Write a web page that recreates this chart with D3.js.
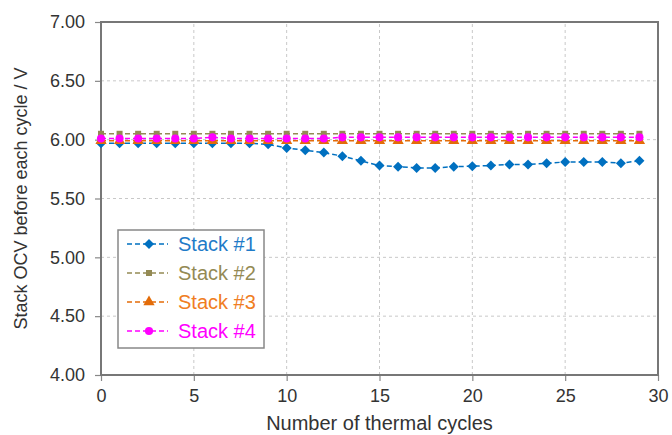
<!DOCTYPE html>
<html lang="en">
<head>
    <meta charset="UTF-8">
    <title>Stack OCV vs thermal cycles</title>
    <script src="https://cdn.jsdelivr.net/npm/d3@7"></script>
    <style>
        body { margin: 0; background: #fff; }
        svg { display: block; font-family: "Liberation Sans", Arial, sans-serif; }
    </style>
</head>
<body>
<div id="chart"></div>
<script>
    const cycles = d3.range(0, 30);
    const stack1 = [5.97, 5.97, 5.97, 5.97, 5.97, 5.97, 5.97, 5.97, 5.97, 5.96,
                    5.93, 5.91, 5.89, 5.86, 5.82, 5.78, 5.77, 5.76, 5.76, 5.77,
                    5.775, 5.78, 5.79, 5.79, 5.80, 5.81, 5.81, 5.81, 5.80, 5.82];
    const stack2 = [6.05, 6.05, 6.05, 6.05, 6.05, 6.05, 6.05, 6.05, 6.05, 6.05,
                    6.05, 6.05, 6.05, 6.05, 6.05, 6.05, 6.05, 6.05, 6.05, 6.05,
                    6.05, 6.05, 6.05, 6.05, 6.05, 6.05, 6.05, 6.05, 6.05, 6.05];
    const stack3 = [5.99, 5.99, 5.99, 5.99, 5.99, 5.99, 5.99, 5.99, 5.99, 5.99,
                    5.99, 5.99, 5.99, 5.99, 5.99, 5.99, 5.99, 5.99, 5.99, 5.99,
                    5.99, 5.99, 5.99, 5.99, 5.99, 5.99, 5.99, 5.99, 5.99, 5.99];
    const stack4 = [6.01, 6.01, 6.01, 6.01, 6.01, 6.01, 6.02, 6.01, 6.01, 6.01,
                    6.01, 6.01, 6.01, 6.02, 6.02, 6.02, 6.02, 6.02, 6.02, 6.02,
                    6.02, 6.02, 6.02, 6.02, 6.02, 6.02, 6.02, 6.02, 6.02, 6.02];
    const seriesNames = ["Stack #1", "Stack #2", "Stack #3", "Stack #4"];
    const xTicks = [0, 5, 10, 15, 20, 25, 30];
    const yTicks = [4.0, 4.5, 5.0, 5.5, 6.0, 6.5, 7.0];

    const series = [
        {name: seriesNames[0], values: stack1, color: "#0070C0", text: "#1F7BC8", symbol: d3.symbolSquare, size: 50, rot: 45},
        {name: seriesNames[1], values: stack2, color: "#948A54", text: "#948A54", symbol: d3.symbolSquare, size: 36, rot: 0},
        {name: seriesNames[2], values: stack3, color: "#E36C09", text: "#F07D22", symbol: d3.symbolTriangle, size: 55, rot: 0},
        {name: seriesNames[3], values: stack4, color: "#FF00FF", text: "#FF00FF", symbol: d3.symbolCircle, size: 52, rot: 0}
    ];

    const width = 672, height = 435;
    const margin = {left: 101, right: 14, top: 22, bottom: 60};

    const x = d3.scaleLinear().domain([0, 30]).range([margin.left, width - margin.right]);
    const y = d3.scaleLinear().domain([4, 7]).range([height - margin.bottom, margin.top]);

    const svg = d3.select("#chart").append("svg")
        .attr("width", width)
        .attr("height", height);

    // grid
    svg.append("g")
        .selectAll("line")
        .data(xTicks.slice(1, -1))
        .join("line")
        .attr("x1", d => x(d)).attr("x2", d => x(d))
        .attr("y1", y(4)).attr("y2", y(7))
        .attr("stroke", "#c8c8c8")
        .attr("stroke-dasharray", "3,3");
    svg.append("g")
        .selectAll("line")
        .data(yTicks.slice(1, -1))
        .join("line")
        .attr("x1", x(0)).attr("x2", x(30))
        .attr("y1", d => y(d)).attr("y2", d => y(d))
        .attr("stroke", "#c8c8c8")
        .attr("stroke-dasharray", "3,3");

    // axes
    const xAxis = svg.append("g")
        .attr("transform", `translate(0,${y(4)})`)
        .call(d3.axisBottom(x).tickValues(xTicks).tickSize(6).tickPadding(8).tickFormat(d3.format("d")));
    const yAxis = svg.append("g")
        .attr("transform", `translate(${x(0)},0)`)
        .call(d3.axisLeft(y).tickValues(yTicks).tickSize(6).tickPadding(10).tickFormat(d3.format(".2f")));
    [xAxis, yAxis].forEach(a => {
        a.select(".domain").remove();
        a.selectAll("line").attr("stroke", "#888").attr("stroke-width", 1.2);
        a.selectAll("text").attr("fill", "#333").style("font-size", "18px");
    });

    // plot frame
    svg.append("rect")
        .attr("x", x(0)).attr("y", y(7))
        .attr("width", x(30) - x(0)).attr("height", y(4) - y(7))
        .attr("fill", "none")
        .attr("stroke", "#777")
        .attr("stroke-width", 2);

    // series
    const line = d3.line().x((d, i) => x(cycles[i])).y(d => y(d));
    series.forEach(s => {
        const g = svg.append("g");
        g.append("path")
            .datum(s.values)
            .attr("d", line)
            .attr("fill", "none")
            .attr("stroke", s.color)
            .attr("stroke-width", 1.5)
            .attr("stroke-dasharray", "5,3");
        g.selectAll("path.pt")
            .data(s.values)
            .join("path")
            .attr("class", "pt")
            .attr("transform", (d, i) => `translate(${x(cycles[i])},${y(d)}) rotate(${s.rot})`)
            .attr("d", d3.symbol(s.symbol, s.size))
            .attr("fill", s.color);
    });

    // legend
    const legend = svg.append("g").attr("transform", "translate(118,230)");
    legend.append("rect")
        .attr("width", 146).attr("height", 118)
        .attr("fill", "#fff")
        .attr("stroke", "#888")
        .attr("stroke-width", 1.5);
    series.forEach((s, i) => {
        const row = legend.append("g").attr("transform", `translate(0,${14 + i * 29})`);
        row.append("line")
            .attr("x1", 9).attr("x2", 50)
            .attr("stroke", s.color)
            .attr("stroke-width", 1.5)
            .attr("stroke-dasharray", "5,3");
        row.append("path")
            .attr("transform", `translate(31,0) rotate(${s.rot})`)
            .attr("d", d3.symbol(s.symbol, s.size))
            .attr("fill", s.color);
        row.append("text")
            .attr("x", 60).attr("dy", "0.35em")
            .attr("fill", s.text)
            .style("font-size", "20px")
            .text(s.name);
    });

    // axis titles
    svg.append("text")
        .attr("x", (x(0) + x(30)) / 2).attr("y", 430)
        .attr("text-anchor", "middle")
        .attr("fill", "#333")
        .style("font-size", "20px")
        .text("Number of thermal cycles");
    svg.append("text")
        .attr("transform", `translate(27,${(y(4) + y(7)) / 2}) rotate(-90)`)
        .attr("text-anchor", "middle")
        .attr("fill", "#333")
        .style("font-size", "18px")
        .text("Stack OCV before each cycle / V");
</script>
</body>
</html>
